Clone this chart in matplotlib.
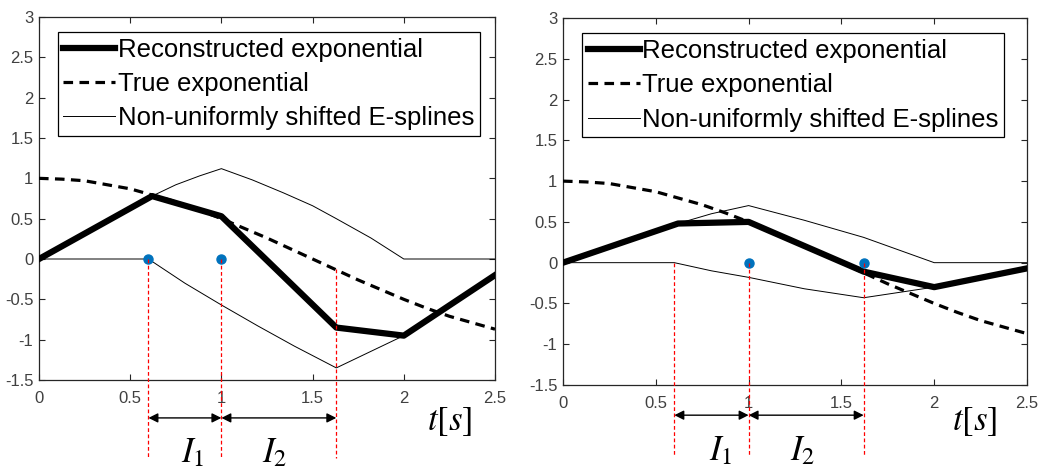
import matplotlib
matplotlib.use("Agg")
import matplotlib.pyplot as plt

plt.rcParams['font.family'] = ['Liberation Sans', 'DejaVu Sans']
plt.rcParams['mathtext.fontset'] = 'stix'

# true exponential
t_true = [0, 0.125, 0.25, 0.375, 0.5, 0.625, 0.75, 0.875, 1.0, 1.125, 1.25,
          1.375, 1.5, 1.625, 1.75, 1.875, 2.0, 2.125, 2.25, 2.375, 2.5]
y_true = [1.0, 0.99, 0.97, 0.92, 0.87, 0.79, 0.71, 0.61, 0.50, 0.38, 0.26,
          0.13, 0.0, -0.13, -0.26, -0.38, -0.50, -0.61, -0.71, -0.79, -0.87]

# left panel
L_rec_t = [0, 0.62, 1.0, 1.63, 2.0, 2.5]
L_rec_y = [0, 0.78, 0.53, -0.85, -0.95, -0.2]
L_up_t = [0, 0.62, 0.75, 0.88, 1.0, 1.17, 1.34, 1.5, 1.63, 1.82, 2.0, 2.5]
L_up_y = [0, 0.78, 0.92, 1.03, 1.12, 0.98, 0.82, 0.66, 0.5, 0.26, 0, 0]
L_lo_t = [0, 0.6, 0.8, 1.0, 1.2, 1.4, 1.63, 2.0, 2.5]
L_lo_y = [0, 0, -0.3, -0.57, -0.83, -1.08, -1.35, -0.95, -0.2]
L_dots = [0.6, 1.0]
L_marks = [0.6, 1.0, 1.63]
L_mark_top = [0, 0, -0.13]

# right panel
R_rec_t = [0, 0.62, 1.0, 1.62, 2.0, 2.5]
R_rec_y = [0, 0.48, 0.5, -0.11, -0.3, -0.07]
R_up_t = [0, 0.62, 0.8, 1.0, 1.3, 1.62, 2.0, 2.5]
R_up_y = [0, 0.48, 0.6, 0.7, 0.52, 0.31, 0, 0]
R_lo_t = [0, 0.6, 0.8, 1.0, 1.3, 1.62, 2.0, 2.5]
R_lo_y = [0, 0, -0.1, -0.18, -0.32, -0.43, -0.3, -0.07]
R_dots = [1.0, 1.62]
R_marks = [0.6, 1.0, 1.62]
R_mark_top = [0, 0, 0]

fig = plt.figure(figsize=(10.42, 4.70), dpi=100)
axL = fig.add_axes([39/1042, 1-380/470, 456/1042, 363/470])
axR = fig.add_axes([563/1042, 1-385/470, 464/1042, 367/470])

DASH = (0, (3, 2))


def panel(ax, rec_t, rec_y, up_t, up_y, lo_t, lo_y, dots, marks, mark_top,
          ybot, yarr, ylab, xI1, xI2, xt, yt):
    ax.plot(up_t, up_y, color='black', lw=0.7, zorder=2)
    ax.plot(lo_t, lo_y, color='black', lw=0.7, zorder=2)
    ax.plot(t_true, y_true, color='black', lw=2.3, ls=DASH, zorder=3)
    ax.plot(rec_t, rec_y, color='black', lw=4.5, zorder=4)
    ax.plot(dots, [0]*len(dots), 'o', color='#0072BD', ms=6.5, zorder=5)
    for x, y0 in zip(marks, mark_top):
        ax.plot([x, x], [y0, ybot], color='red', lw=0.9, ls=(0, (3, 2)),
                clip_on=False, zorder=6)
    for a, b in [(marks[0], marks[1]), (marks[1], marks[2])]:
        ax.annotate('', xy=(b, yarr), xytext=(a, yarr), annotation_clip=False,
                    arrowprops=dict(arrowstyle='<|-|>', color='black', lw=1,
                                    mutation_scale=14, shrinkA=0, shrinkB=0))
    ax.text(xI1, ylab, '$I_1$', fontsize=25, ha='center', va='center')
    ax.text(xI2, ylab, '$I_2$', fontsize=25, ha='center', va='center')
    ax.text(xt, yt, '$t[s]$', fontsize=25, ha='center', va='center')

    ax.set_xlim(0, 2.5)
    ax.set_ylim(-1.5, 3)
    ax.set_xticks([0, 0.5, 1, 1.5, 2, 2.5])
    ax.set_xticklabels(['0', '0.5', '1', '1.5', '2', '2.5'])
    ax.set_yticks([-1.5, -1, -0.5, 0, 0.5, 1, 1.5, 2, 2.5, 3])
    ax.set_yticklabels(['-1.5', '-1', '-0.5', '0', '0.5', '1', '1.5', '2', '2.5', '3'])
    ax.tick_params(direction='in', top=True, right=True, labelsize=12,
                   labelcolor='#404040', color='#262626', length=4, width=0.8)
    ax.tick_params(axis='x', pad=8)
    ax.tick_params(axis='y', pad=4)
    for s in ax.spines.values():
        s.set_color('#262626')
        s.set_linewidth(0.9)

    h_rec, = ax.plot([], [], color='black', lw=4.5)
    h_true, = ax.plot([], [], color='black', lw=2.3, ls=DASH)
    h_thin, = ax.plot([], [], color='black', lw=0.7)
    leg = ax.legend([h_rec, h_true, h_thin],
                    ['Reconstructed exponential', 'True exponential',
                     'Non-uniformly shifted E-splines'],
                    loc='upper left', bbox_to_anchor=(0.041, 0.958),
                    fontsize=18.5, handlelength=2.02, handletextpad=0.1,
                    labelspacing=0.4, borderpad=0.22, borderaxespad=0,
                    fancybox=False, framealpha=1, edgecolor='black')
    leg.get_frame().set_linewidth(0.9)


panel(axL, L_rec_t, L_rec_y, L_up_t, L_up_y, L_lo_t, L_lo_y, L_dots,
      L_marks, L_mark_top, -2.47, -1.97, -2.40, 0.84, 1.29, 2.25, -2.02)
panel(axR, R_rec_t, R_rec_y, R_up_t, R_up_y, R_lo_t, R_lo_y, R_dots,
      R_marks, R_mark_top, -2.36, -1.87, -2.30, 0.85, 1.29, 2.22, -1.95)

fig.savefig('out.png', dpi=100)
